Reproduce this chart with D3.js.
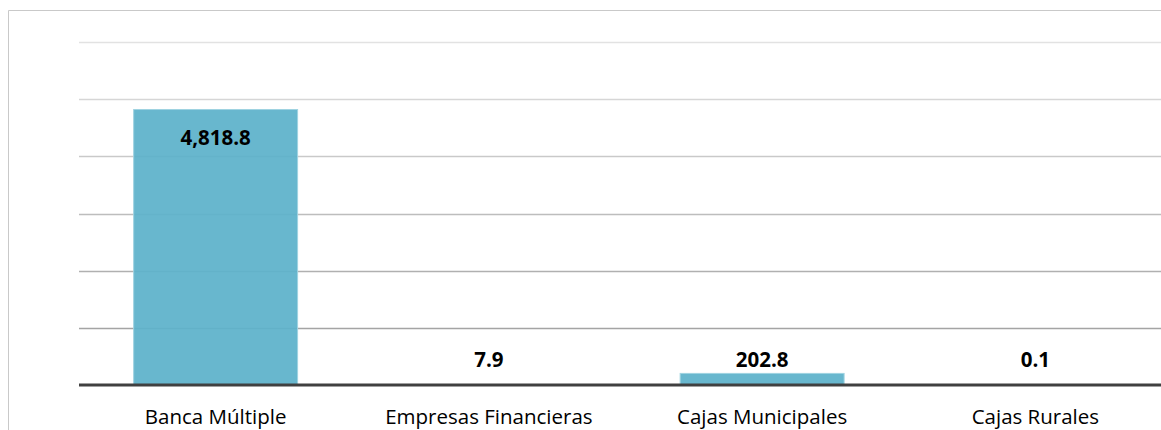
<!DOCTYPE html>
<html>
<head>
<meta charset="utf-8">
<script src="https://cdn.jsdelivr.net/npm/d3@7"></script>
<style>
  body { margin: 0; background: #fff; }
  svg { display: block; font-family: "Open Sans", "Noto Sans", sans-serif; }
  .cat { font-size: 20.5px; fill: #000; }
  .val { font-size: 20.5px; font-weight: bold; fill: #000; }
</style>
</head>
<body>
<svg width="1161" height="430"></svg>
<script>
var categories = ["Banca Múltiple", "Empresas Financieras", "Cajas Municipales", "Cajas Rurales"];
var values = [4818.8, 7.9, 202.8, 0.1];
var labels = ["4,818.8", "7.9", "202.8", "0.1"];
var gridTicks = [1000, 2000, 3000, 4000, 5000, 6000];

var width = 1161,
  height = 430,
  margin = { top: 42, left: 79, bottom: 45 };

var svg = d3.select("svg");

// chart frame (cut off at the right and bottom)
svg
  .append("path")
  .attr("d", "M8.5," + height + "V10.5H" + width)
  .attr("fill", "none")
  .attr("stroke", "#c9c9c9")
  .attr("stroke-width", 1);

var x = d3
  .scaleBand()
  .domain(categories)
  .range([margin.left, margin.left + 4 * 273.25])
  .paddingInner(0.4)
  .paddingOuter(0.2);

var y = d3
  .scaleLinear()
  .domain([0, 6000])
  .range([height - margin.bottom, margin.top]);

// gridlines get darker towards the bottom
var gridColor = d3
  .scaleLinear()
  .domain([6000, 1000])
  .range(["#e2e2e2", "#a4a4a4"]);

svg
  .append("g")
  .selectAll("line")
  .data(gridTicks)
  .enter()
  .append("line")
  .attr("x1", margin.left)
  .attr("x2", width)
  .attr("y1", function(d) { return Math.round(y(d)) + 0.5; })
  .attr("y2", function(d) { return Math.round(y(d)) + 0.5; })
  .attr("stroke", function(d) { return gridColor(d); })
  .attr("stroke-width", 1.5);

// bars
svg
  .append("g")
  .selectAll("rect")
  .data(values)
  .enter()
  .append("rect")
  .attr("x", function(d, i) { return x(categories[i]); })
  .attr("width", x.bandwidth())
  .attr("y", function(d) { return y(d); })
  .attr("height", function(d) { return y(0) - y(d); })
  .attr("fill", "#5cb2ca")
  .attr("fill-opacity", 0.93)
  .attr("stroke", "#9fd3e1")
  .attr("stroke-width", 1);

// axis line
svg
  .append("line")
  .attr("x1", margin.left)
  .attr("x2", width)
  .attr("y1", y(0))
  .attr("y2", y(0))
  .attr("stroke", "#404040")
  .attr("stroke-width", 3.2);

// value labels: inside the tall bar, above the short ones
svg
  .append("g")
  .selectAll("text")
  .data(values)
  .enter()
  .append("text")
  .attr("class", "val")
  .attr("text-anchor", "middle")
  .attr("x", function(d, i) { return x(categories[i]) + x.bandwidth() / 2; })
  .attr("y", function(d) {
    return d > 1000 ? y(d) + 35 : Math.min(y(d) - 6, y(0) - 18);
  })
  .text(function(d, i) { return labels[i]; });

// category labels
svg
  .append("g")
  .selectAll("text")
  .data(categories)
  .enter()
  .append("text")
  .attr("class", "cat")
  .attr("text-anchor", "middle")
  .attr("x", function(d) { return x(d) + x.bandwidth() / 2; })
  .attr("y", 424)
  .text(function(d) { return d; });
</script>
</body>
</html>
